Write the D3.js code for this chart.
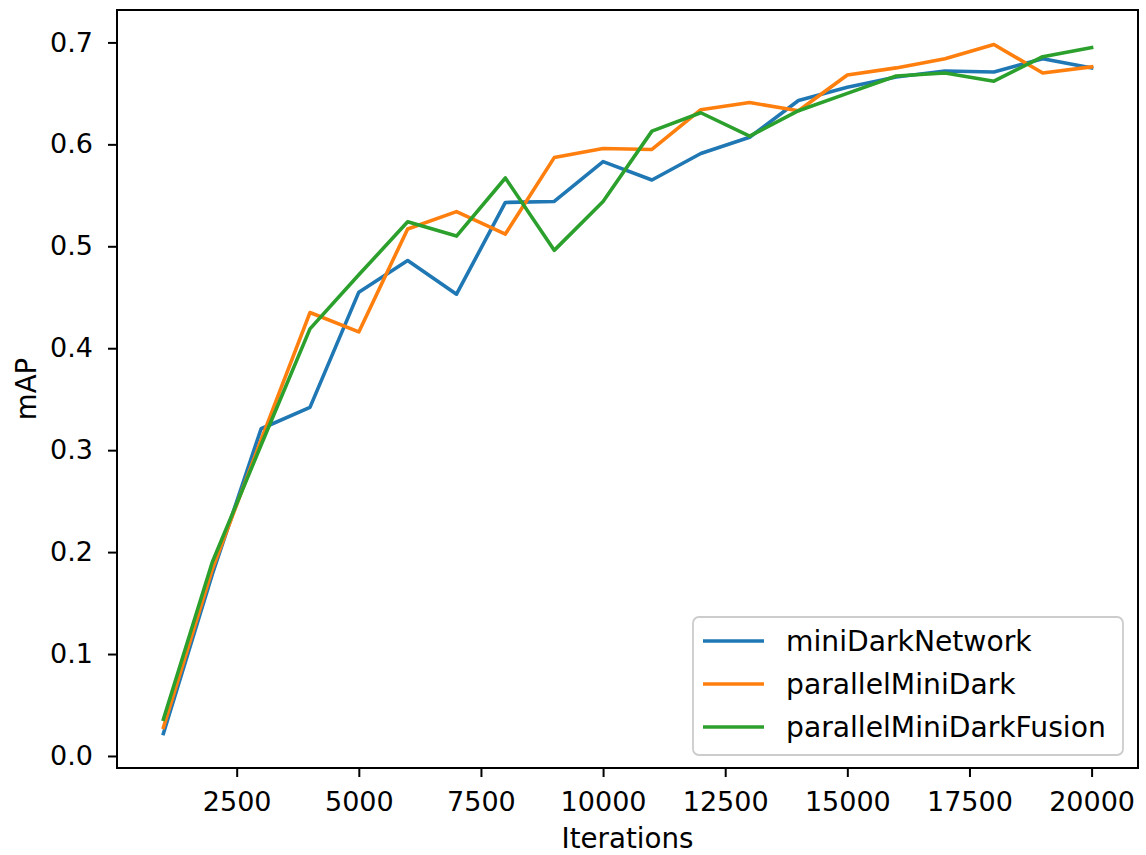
<!DOCTYPE html>
<html>
<head>
<meta charset="utf-8">
<script src="https://cdn.jsdelivr.net/npm/d3@7"></script>
<style>
  html, body { margin: 0; padding: 0; background: #fff; }
  text { font-family: "DejaVu Sans", sans-serif; }
</style>
</head>
<body>
<svg id="chart" width="1146" height="855"></svg>
<script>
const iterations = [1000,2000,3000,4000,5000,6000,7000,8000,9000,10000,11000,12000,13000,14000,15000,16000,17000,18000,19000,20000];
const miniDarkNetwork = [0.022,0.178,0.321,0.342,0.455,0.486,0.453,0.543,0.544,0.583,0.565,0.591,0.607,0.643,0.656,0.666,0.672,0.671,0.684,0.675];
const parallelMiniDark = [0.028,0.183,0.310,0.435,0.416,0.517,0.534,0.512,0.587,0.596,0.595,0.634,0.641,0.633,0.668,0.675,0.684,0.698,0.670,0.676];
const parallelMiniDarkFusion = [0.036,0.190,0.305,0.419,0.472,0.524,0.510,0.567,0.496,0.544,0.613,0.631,0.608,0.633,0.650,0.667,0.670,0.662,0.686,0.695];
const seriesNames = ["miniDarkNetwork","parallelMiniDark","parallelMiniDarkFusion"];
const seriesColors = ["#1f77b4","#ff7f0e","#2ca02c"];
const xTicks = [2500,5000,7500,10000,12500,15000,17500,20000];
const yTicks = [0.0,0.1,0.2,0.3,0.4,0.5,0.6,0.7];

const svg = d3.select("#chart");
const L = 117, R = 1138, T = 10, B = 768;
const FS = 27;
const FS_LEG = 28.2;
const FS_LAB = 27.7;

const x = d3.scaleLinear().domain([50, 20950]).range([L, R]);
const yMin = -0.0118, yMax = 0.7318;
const y = d3.scaleLinear().domain([yMin, yMax]).range([B, T]);

const allSeries = [miniDarkNetwork, parallelMiniDark, parallelMiniDarkFusion];

// Axes
const xAxis = d3.axisBottom(x).tickValues(xTicks).tickFormat(d3.format("d")).tickSize(9).tickPadding(15);
const gx = svg.append("g").attr("transform", `translate(0,${B})`).call(xAxis);
const yAxis = d3.axisLeft(y).tickValues(yTicks).tickFormat(d3.format(".1f")).tickSize(9).tickPadding(15);
const gy = svg.append("g").attr("transform", `translate(${L},0)`).call(yAxis);
[gx, gy].forEach(g => {
  g.select(".domain").remove();
  g.selectAll(".tick line").attr("stroke", "#000").attr("stroke-width", 2);
  g.selectAll(".tick text").attr("font-size", FS).attr("font-family", "DejaVu Sans").attr("fill", "#000");
});

// Lines
const line = d3.line().x((d, i) => x(iterations[i])).y(d => y(d));
svg.append("clipPath").attr("id", "clip").append("rect")
  .attr("x", L).attr("y", T).attr("width", R - L).attr("height", B - T);
allSeries.forEach((s, k) => {
  svg.append("path").datum(s)
    .attr("d", line)
    .attr("fill", "none")
    .attr("stroke", seriesColors[k])
    .attr("stroke-width", 3.6)
    .attr("stroke-linejoin", "round")
    .attr("stroke-linecap", "square")
    .attr("clip-path", "url(#clip)");
});

// Frame
svg.append("rect").attr("x", L).attr("y", T).attr("width", R - L).attr("height", B - T)
  .attr("fill", "none").attr("stroke", "#000").attr("stroke-width", 2);

// Axis labels
svg.append("text").attr("x", (L + R) / 2).attr("y", 848).attr("text-anchor", "middle")
  .attr("font-size", FS_LAB).text("Iterations");
svg.append("text").attr("transform", `translate(36,${(T + B) / 2}) rotate(-90)`).attr("text-anchor", "middle")
  .attr("font-size", FS_LAB).text("mAP");

// Legend
const lg = svg.append("g");
lg.append("rect").attr("x", 693).attr("y", 617).attr("width", 430).attr("height", 138)
  .attr("rx", 6).attr("ry", 6)
  .attr("fill", "#fff").attr("fill-opacity", 0.8)
  .attr("stroke", "#cccccc").attr("stroke-width", 1.8);
const rowY = [641, 684, 727];
seriesNames.forEach((name, k) => {
  lg.append("line").attr("x1", 703).attr("x2", 764).attr("y1", rowY[k]).attr("y2", rowY[k])
    .attr("stroke", seriesColors[k]).attr("stroke-width", 3.6);
  lg.append("text").attr("x", 786).attr("y", rowY[k]).attr("dy", "0.36em")
    .attr("font-size", FS_LEG).attr("fill", "#000").text(name);
});
</script>
</body>
</html>
